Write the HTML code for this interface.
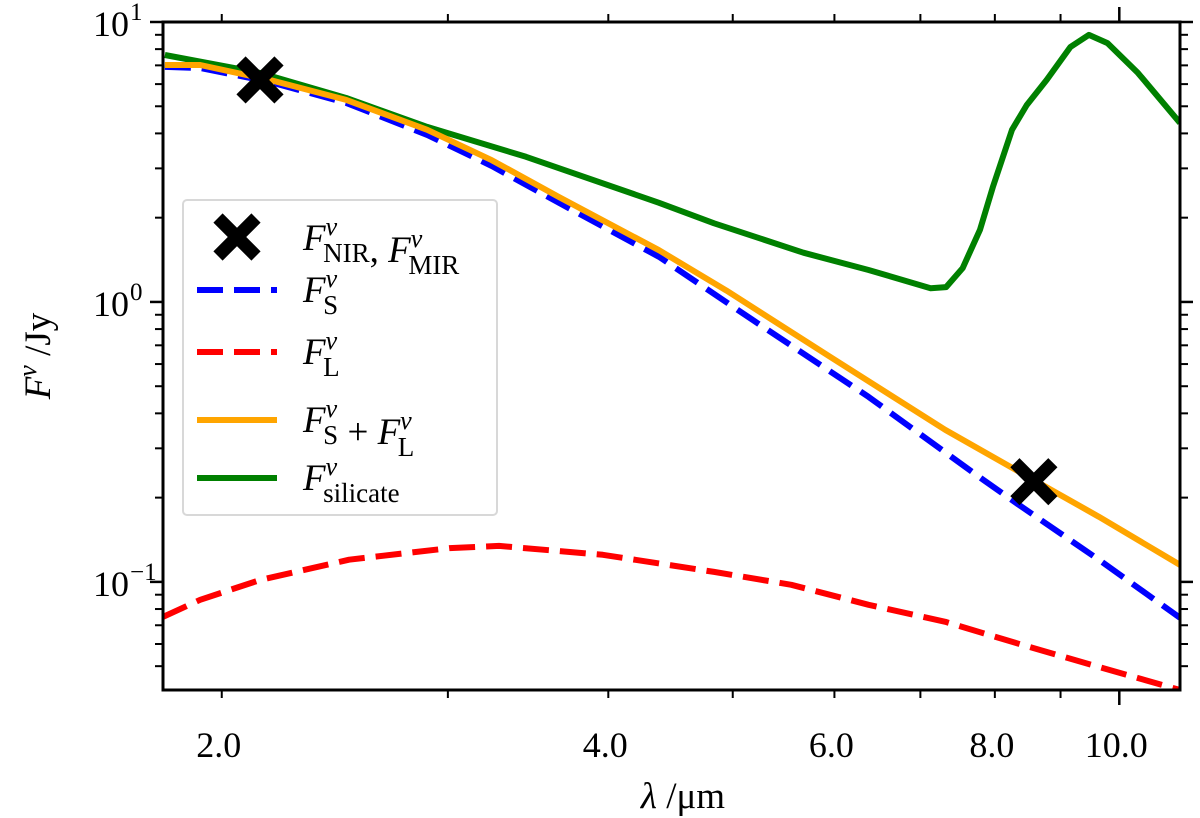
<!DOCTYPE html>
<html><head><meta charset="utf-8"><style>
body{margin:0;background:#fff;}
svg{display:block;font-family:"Liberation Serif","DejaVu Serif",serif;}
</style></head><body>
<svg id="chart" width="1200" height="818" viewBox="0 0 1200 818"></svg>
<script>
const xTickVals=[2,4,6,8,10];
const xTickLabels=["2.0","4.0","6.0","8.0","10.0"];
const xMinorVals=[2,3,4,5,6,7,8,9];
const yMajorVals=[0.1,1,10];
const yMajorExp=["−1","0","1"];
const fsX=[1.806,1.924,2.179,2.50,2.891,3.246,3.661,4.381,5.187,6.379,7.84,8.40,9.64,11.15];
const fsY=[6.91,6.85,6.11,5.14,3.95,3.06,2.26,1.45,0.86,0.458,0.231,0.185,0.120,0.0744];
const flX=[1.80,1.924,2.142,2.513,3.01,3.288,3.961,4.836,5.554,6.379,7.32,8.40,9.64,11.15];
const flY=[0.075,0.0863,0.1016,0.120,0.132,0.1345,0.125,0.1086,0.0976,0.0828,0.0720,0.0596,0.0497,0.0411];
const fsumX=[1.806,1.924,2.179,2.50,2.891,3.246,3.661,4.381,4.942,5.957,7.32,8.58,9.64,11.15];
const fsumY=[7.02,7.02,6.21,5.27,4.12,3.21,2.37,1.53,1.10,0.636,0.349,0.231,0.171,0.115];
const silX=[1.806,2.142,2.50,2.891,3.451,4.381,4.836,5.675,6.379,7.13,7.33,7.55,7.79,7.97,8.25,8.47,8.78,9.16,9.47,9.79,10.34,11.15];
const silY=[7.62,6.58,5.35,4.22,3.30,2.26,1.91,1.50,1.30,1.12,1.13,1.32,1.81,2.57,4.12,5.05,6.21,8.14,8.99,8.41,6.58,4.36];
const obsX=[2.142,8.58];
const obsY=[6.21,0.228];

const L=163,R=1180,T=22,B=690,XMIN=1.80,XMAX=11.15,YMIN=0.0411,YMAX=10;
const NS="http://www.w3.org/2000/svg";
const svg=document.getElementById('chart');
function sx(v){return L+(R-L)*Math.log10(v/XMIN)/Math.log10(XMAX/XMIN);}
function sy(v){return B-(B-T)*Math.log10(v/YMIN)/Math.log10(YMAX/YMIN);}
function mk(tag,attrs,parent){const e=document.createElementNS(NS,tag);for(const k in attrs)e.setAttribute(k,attrs[k]);(parent||svg).appendChild(e);return e;}
function pathOf(xs,ys){return xs.map((x,i)=>(i?'L':'M')+sx(x).toFixed(1)+','+sy(ys[i]).toFixed(1)).join(' ');}

const clip=mk('clipPath',{id:'pc'});mk('rect',{x:L,y:T,width:R-L,height:B-T},clip);
const plot=mk('g',{'clip-path':'url(#pc)'});



let p=mk('path',{d:pathOf(flX,flY),fill:'none',stroke:'#ff0000','stroke-width':6,'stroke-dasharray':'26,11','stroke-linejoin':'round'},plot);


p=mk('path',{d:pathOf(silX,silY),fill:'none',stroke:'#008000','stroke-width':6,'stroke-linejoin':'round'},plot);


p=mk('path',{d:pathOf(fsX,fsY),fill:'none',stroke:'#0000ff','stroke-width':6,'stroke-dasharray':'26,11','stroke-linejoin':'round'},plot);


p=mk('path',{d:pathOf(fsumX,fsumY),fill:'none',stroke:'#ffa500','stroke-width':6,'stroke-linejoin':'round'},plot);



function drawX(cx,cy,parent,name){
  const g=mk('g',{},parent);
  
  
  const s=19;
  mk('path',{d:`M${cx-s},${cy-s}L${cx+s},${cy+s}M${cx-s},${cy+s}L${cx+s},${cy-s}`,stroke:'#000','stroke-width':13},g);
}
obsX.forEach((x,i)=>drawX(sx(x),sy(obsY[i]),svg,'obs-marker-'+i));

const fr=mk('rect',{x:L,y:T,width:R-L,height:B-T,fill:'none',stroke:'#000','stroke-width':3});



xMinorVals.forEach(v=>{const x=sx(v);
  const t1=mk('line',{x1:x,x2:x,y1:B,y2:B+8,stroke:'#000','stroke-width':2});
  
  
  const t2=mk('line',{x1:x,x2:x,y1:T,y2:T-8,stroke:'#000','stroke-width':2});
  
  });
[10].forEach(v=>{const x=sx(v);
  const t=mk('line',{x1:x,x2:x,y1:B,y2:B+15,stroke:'#000','stroke-width':2.5});
  
  
  const t2=mk('line',{x1:x,x2:x,y1:T,y2:T-15,stroke:'#000','stroke-width':2.5});
  
  });
xTickVals.forEach((v,i)=>{const t=mk('text',{x:sx(v)-3,y:757,'font-size':36,'text-anchor':'middle'});t.textContent=xTickLabels[i];
  
  });

yMajorVals.forEach((v,i)=>{const y=sy(v);
  [[L,L-13],[R,R+13]].forEach(a=>{const t=mk('line',{x1:a[0],x2:a[1],y1:y,y2:y,stroke:'#000','stroke-width':2.5});
    
    });
  const t=mk('text',{x:129,y:y+14,'font-size':36,'text-anchor':'end'});t.textContent='10';
  
  
  const e=mk('text',{x:130,y:y-2,'font-size':25,'text-anchor':'start'});e.textContent=yMajorExp[i];
  
  
});
for(let d=-2;d<=0;d++){for(let m=2;m<=9;m++){const v=m*Math.pow(10,d);if(v<YMIN||v>YMAX)continue;const y=sy(v);
  [[L,L-8],[R,R+8]].forEach(a=>{const t=mk('line',{x1:a[0],x2:a[1],y1:y,y2:y,stroke:'#000','stroke-width':2});
    
    });}}

const xt=mk('text',{x:683,y:808,'font-size':37,'text-anchor':'middle'});
xt.innerHTML='<tspan font-style="italic">λ</tspan> /μm';


const yt=mk('text',{x:0,y:0,'font-size':37,'text-anchor':'middle',transform:'translate(50,356) rotate(-90)'});
yt.innerHTML='<tspan font-style="italic">F</tspan><tspan font-style="italic" font-size="26" dy="-14">ν</tspan><tspan dy="14"> /Jy</tspan>';



const lg=mk('g',{});


mk('rect',{x:183,y:200,width:314,height:315,rx:4,fill:'#fff','fill-opacity':0.85,stroke:'#d8d8d8','stroke-width':2},lg);
drawX(237,237,lg,'legend-marker-obs');
function ltext(y,html,name){const t=mk('text',{x:303,y:y,'font-size':37},lg);t.innerHTML=html;
  
  }
function sub(s){return `<tspan font-style="italic">F</tspan><tspan font-style="italic" font-size="26" dy="-15">ν</tspan><tspan font-size="27" dx="-14" dy="27">${s}</tspan><tspan dy="-12"></tspan>`;}
ltext(250,sub('NIR')+'<tspan>, </tspan>'+sub('MIR'),'legend-entry-obs');
function lline(y,col,dash,name){const l=mk('line',{x1:197,x2:277,y1:y,y2:y,stroke:col,'stroke-width':6,'stroke-dasharray':dash||'none'},lg);
  
  }
lline(290,'#0000ff','26,11','legend-line-f-s');ltext(302,sub('S'),'legend-entry-f-s');
lline(352,'#ff0000','26,11','legend-line-f-l');ltext(364,sub('L'),'legend-entry-f-l');
lline(420,'#ffa500','','legend-line-f-sum');ltext(432,sub('S')+'<tspan> + </tspan>'+sub('L'),'legend-entry-f-sum');
lline(478,'#008000','','legend-line-f-silicate');ltext(490,sub('silicate'),'legend-entry-f-silicate');
</script>
</body></html>
